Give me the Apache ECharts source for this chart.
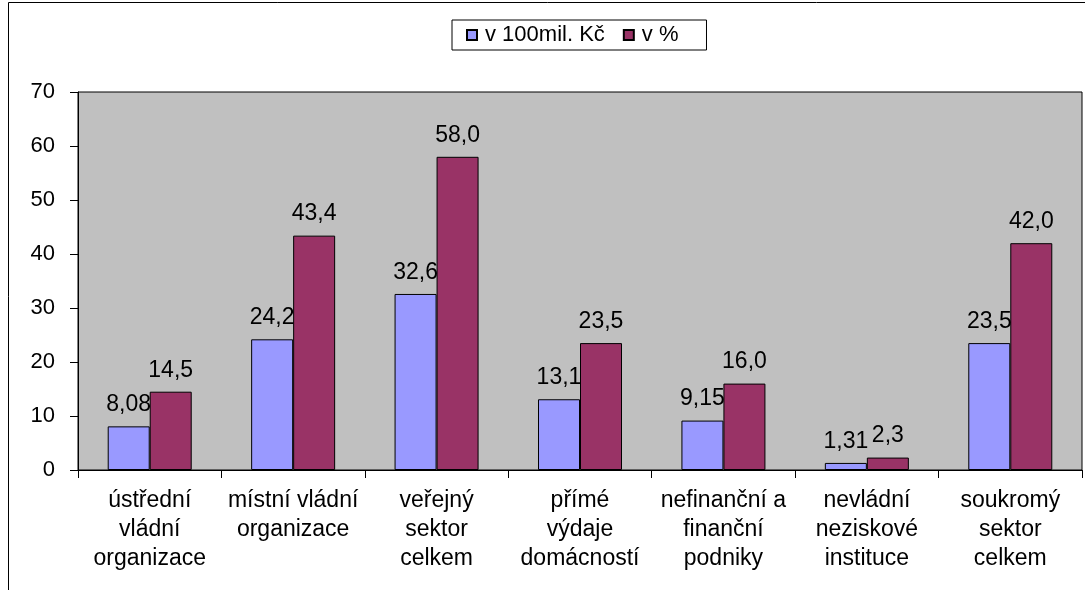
<!DOCTYPE html>
<html><head><meta charset="utf-8">
<script src="https://cdn.jsdelivr.net/npm/echarts@6/dist/echarts.min.js"></script>
<style>html,body{margin:0;padding:0;background:#fff}#c{width:1085px;height:590px}</style>
</head><body><div id="c"></div>
<script>
const categories = ['ústřední\nvládní\norganizace','místní vládní\norganizace','veřejný\nsektor\ncelkem','přímé\nvýdaje\ndomácností','nefinanční a\nfinanční\npodniky','nevládní\nneziskové\ninstituce','soukromý\nsektor\ncelkem'];
const seriesNames = ['v 100mil. Kč','v %'];
const valuesMil = [8.08, 24.2, 32.6, 13.1, 9.15, 1.31, 23.5];
const valuesPct = [14.5, 43.4, 58.0, 23.5, 16.0, 2.3, 42.0];
const yTicks = {min:0, max:70, interval:10};

const font = 'Liberation Sans, Arial, sans-serif';
const chart = echarts.init(document.getElementById('c'));
chart.setOption({
  animation:false,
  textStyle:{fontFamily:font, color:'#000'},
  graphic:[{type:'rect', shape:{x:8.5,y:2.5,width:1100,height:600}, style:{fill:null, stroke:'#000', lineWidth:1}, z:-10}],
  legend:{
    left:452, top:20, padding:[4,28,4,14], itemGap:18,
    borderColor:'#000', borderWidth:1, backgroundColor:'#fff',
    itemWidth:10, itemHeight:10, icon:'rect',
    textStyle:{fontSize:22, fontFamily:font, color:'#000', padding:[0,0,0,3]},
    data:seriesNames
  },
  grid:{left:78, right:3, top:92, bottom:120, show:true, backgroundColor:'#C0C0C0', borderColor:'#000', borderWidth:1},
  xAxis:{type:'category', data:categories,
    axisLine:{lineStyle:{color:'#000'}},
    axisTick:{show:true, length:8, lineStyle:{color:'#000'}},
    axisLabel:{interval:0, fontSize:23, lineHeight:29, margin:16, color:'#000', fontFamily:font}
  },
  yAxis:{type:'value', min:yTicks.min, max:yTicks.max, interval:yTicks.interval,
    splitLine:{show:false},
    axisLine:{show:true, lineStyle:{color:'#000'}},
    axisTick:{show:true, length:8, lineStyle:{color:'#000'}},
    axisLabel:{fontSize:22, margin:23, color:'#000', fontFamily:font}
  },
  series:[
    {name:seriesNames[0], type:'bar', data:valuesMil, barWidth:42, barGap:'0%',
     itemStyle:{color:'#9999FF', borderColor:'#000', borderWidth:1},
     label:{show:true, position:'top', distance:10, fontSize:23, color:'#000', fontFamily:font,
       formatter:p=>p.value.toPrecision(3).replace('.',',')}},
    {name:seriesNames[1], type:'bar', data:valuesPct, barWidth:42, barGap:'0%',
     itemStyle:{color:'#993366', borderColor:'#000', borderWidth:1},
     label:{show:true, position:'top', distance:10, fontSize:23, color:'#000', fontFamily:font,
       formatter:p=>p.value.toFixed(1).replace('.',',')}}
  ]
});
</script></body></html>
